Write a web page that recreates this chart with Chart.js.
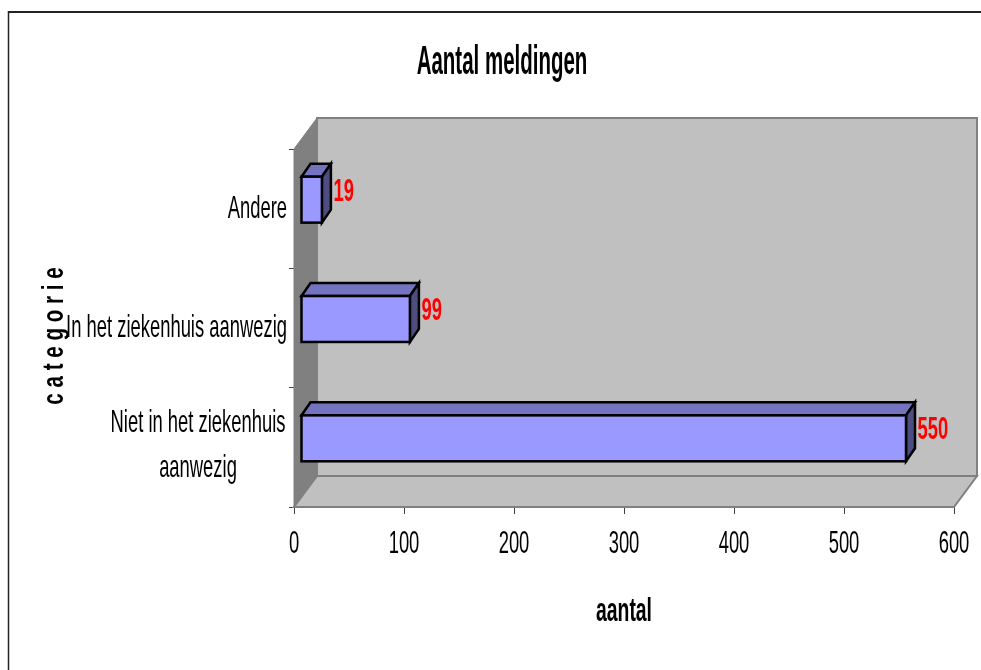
<!DOCTYPE html>
<html>
<head>
<meta charset="utf-8">
<style>
  html, body { margin: 0; background: #fff; }
  #wrap { width: 981px; height: 670px; }
</style>
<script src="https://cdn.jsdelivr.net/npm/chart.js@4"></script>
</head>
<body>
<div id="wrap"><canvas id="meldingen" width="981" height="670"></canvas></div>
<script>
const categories = ["Andere", "In het ziekenhuis aanwezig", ["Niet in het ziekenhuis", "aanwezig"]];
const aantal = [19, 99, 550];
const xTicks = [0, 100, 200, 300, 400, 500, 600];

// 3D look: floor/wall depth, and how far the bars sit in front of the back wall
const WALL = { dx: 23, dy: -31 };
const BAR_SHIFT = { dx: 7, dy: -9 };
const BAR_DEPTH = { dx: 9, dy: -13 };
const EDGE = 2.5;

// text is tall and narrow, so draw it squeezed along its own direction
function squeezed(ctx, text, x, y, opts) {
  ctx.save();
  ctx.font = (opts.bold ? "bold " : "") + (opts.size || 32) + "px 'Liberation Sans', Arial, sans-serif";
  ctx.fillStyle = opts.color || "#000";
  ctx.textAlign = opts.align || "center";
  ctx.textBaseline = "alphabetic";
  ctx.translate(x, y);
  if (opts.rotate) ctx.rotate(opts.rotate);
  ctx.scale(opts.sx || 0.575, 1);
  ctx.fillText(text, 0, 0);
  ctx.restore();
}

function poly(ctx, pts, fill, stroke, lw) {
  ctx.beginPath();
  pts.forEach((p, i) => i ? ctx.lineTo(p[0], p[1]) : ctx.moveTo(p[0], p[1]));
  ctx.closePath();
  if (fill) { ctx.fillStyle = fill; ctx.fill(); }
  if (stroke) { ctx.strokeStyle = stroke; ctx.lineWidth = lw || 1; ctx.lineJoin = "miter"; ctx.stroke(); }
}

const walls = {
  id: "walls",
  beforeDatasetsDraw(chart) {
    const { ctx, chartArea: a } = chart;
    const dx = WALL.dx, dy = WALL.dy;
    ctx.save();
    // frame around the chart object: open on the right and at the bottom
    ctx.strokeStyle = "#222";
    ctx.lineWidth = 2;
    ctx.beginPath();
    ctx.moveTo(8, 12);
    ctx.lineTo(981, 12);
    ctx.stroke();
    ctx.lineWidth = 1.5;
    ctx.beginPath();
    ctx.moveTo(8.5, 11);
    ctx.lineTo(8.5, 670);
    ctx.stroke();
    // back wall, floor, side wall
    poly(ctx, [[a.left + dx, a.top + dy], [a.right + dx, a.top + dy], [a.right + dx, a.bottom + dy], [a.left + dx, a.bottom + dy]], "#c0c0c0", "#808080", 2);
    poly(ctx, [[a.left, a.bottom], [a.right, a.bottom], [a.right + dx, a.bottom + dy], [a.left + dx, a.bottom + dy]], "#c0c0c0", "#808080", 2);
    poly(ctx, [[a.left, a.top], [a.left + dx, a.top + dy], [a.left + dx, a.bottom + dy], [a.left, a.bottom]], "#808080", "#808080", 1);
    ctx.restore();
  },
  beforeDatasetDraw(chart) {
    const { ctx } = chart;
    ctx.save();
    ctx.translate(BAR_SHIFT.dx, BAR_SHIFT.dy);
    // top and end faces sit behind the front face
    chart.getDatasetMeta(0).data.forEach(bar => {
      const t = bar.y - bar.height / 2, b = bar.y + bar.height / 2;
      const l = bar.base, r = bar.x;
      const dx = BAR_DEPTH.dx, dy = BAR_DEPTH.dy;
      poly(ctx, [[l, t], [r, t], [r + dx, t + dy], [l + dx, t + dy]], "#7373bf", "#000", EDGE);
      poly(ctx, [[r, t], [r + dx, t + dy], [r + dx, b + dy], [r, b]], "#4d4d80", "#000", EDGE);
    });
  },
  afterDatasetDraw(chart) {
    const { ctx } = chart;
    // outline centred on the bar edge so the value lands in the middle of the line
    ctx.strokeStyle = "#000";
    ctx.lineWidth = EDGE;
    chart.getDatasetMeta(0).data.forEach(bar => {
      ctx.strokeRect(bar.base, bar.y - bar.height / 2, bar.x - bar.base, bar.height);
    });
    ctx.restore();
  },
  afterDraw(chart) {
    const { ctx, scales } = chart;
    squeezed(ctx, "Aantal meldingen", 502, 74, { bold: true, size: 40, sx: 0.512 });
    squeezed(ctx, "aantal", 624, 620.5, { bold: true, size: 33, sx: 0.587 });
    squeezed(ctx, "c a t e g o r i e", 63, 336, { bold: true, size: 29, sx: 0.71, rotate: -Math.PI / 2 });

    xTicks.forEach(v => squeezed(ctx, String(v), scales.x.getPixelForValue(v), 553, {}));

    categories.forEach((label, i) => {
      const y = scales.y.getPixelForValue(i);
      if (Array.isArray(label)) {
        // two-line label: lines centred on each other
        squeezed(ctx, label[0], 198, y - 15, {});
        squeezed(ctx, label[1], 198, y + 30, {});
      } else {
        squeezed(ctx, label, 287, y + 9, { align: "right" });
      }
    });

    chart.getDatasetMeta(0).data.forEach((bar, i) => {
      squeezed(ctx, String(aantal[i]), bar.x + BAR_SHIFT.dx + 11.5, bar.y + BAR_SHIFT.dy + 1,
        { bold: true, color: "#ff0000", align: "left" });
    });
  }
};

new Chart("meldingen", {
  type: "bar",
  data: {
    labels: categories,
    datasets: [{
      label: "Aantal meldingen",
      data: aantal,
      backgroundColor: "#9999ff",
      borderWidth: 0,
      categoryPercentage: 1,
      barPercentage: 0.385
    }]
  },
  options: {
    indexAxis: "y",
    responsive: false,
    animation: false,
    layout: { padding: { left: 289, right: 27, top: 149, bottom: 156 } },
    scales: {
      x: {
        min: 0,
        max: 600,
        afterBuildTicks(axis) { axis.ticks = xTicks.map(value => ({ value })); },
        ticks: { display: false },
        grid: { drawOnChartArea: false, color: "#404040", tickLength: 7 },
        border: { color: "#666", width: 2 }
      },
      y: {
        ticks: { display: false },
        grid: { drawOnChartArea: false, color: "#404040", tickLength: 5 },
        border: { color: "#555", width: 1 }
      }
    },
    plugins: {
      legend: { display: false },
      tooltip: { enabled: false }
    }
  },
  plugins: [walls]
});
</script>
</body>
</html>
